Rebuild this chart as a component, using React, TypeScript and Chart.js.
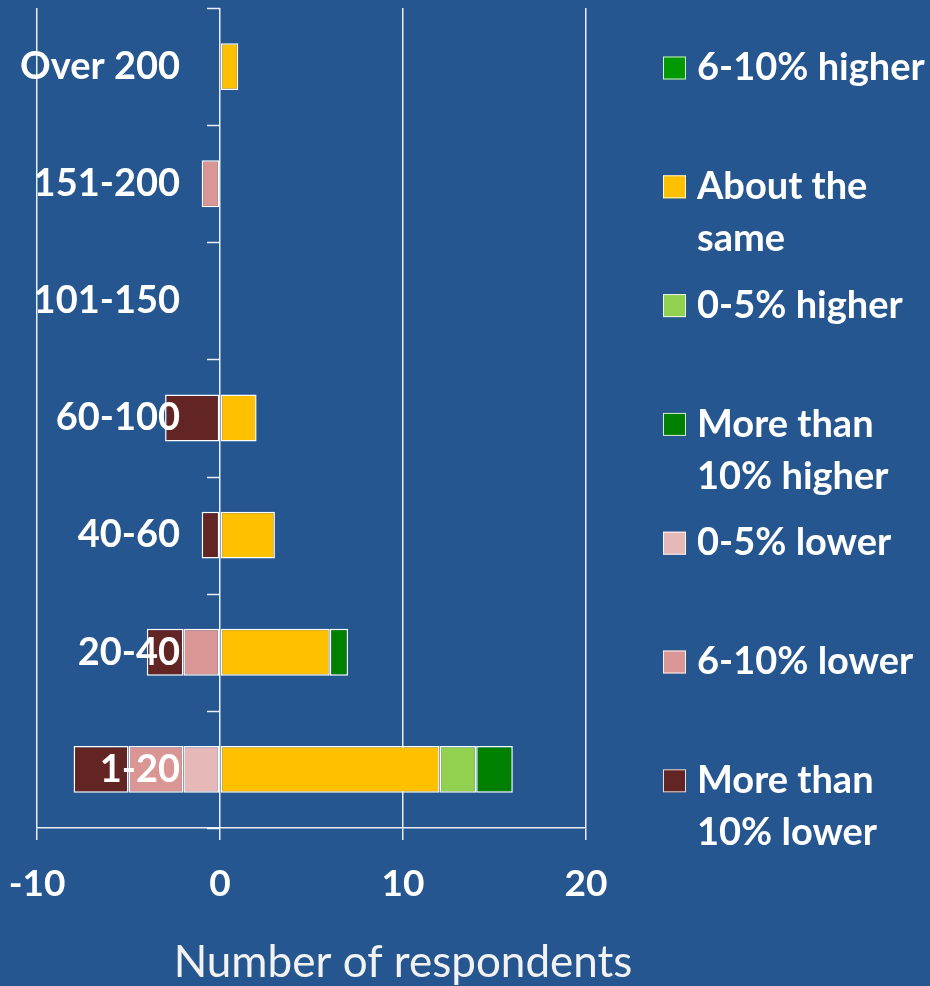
import React, { useEffect, useRef } from 'react';
import { Chart, registerables } from 'chart.js';

Chart.register(...registerables);

// ---- data ----
const categories = ['Over 200', '151-200', '101-150', '60-100', '40-60', '20-40', '1-20'];
const moreThan10Lower = [null, null, null, -3, -1, -2, -3];
const lower6to10 = [null, -1, null, null, null, -2, -3];
const lower0to5 = [null, null, null, null, null, null, -2];
const aboutSame = [1, null, null, 2, 3, 6, 12];
const higher0to5 = [null, null, null, null, null, null, 2];
const higher6to10 = [null, null, null, null, null, null, null];
const moreThan10Higher = [null, null, null, null, null, 1, 2];
const xMin = -10;
const xMax = 20;
const xStep = 10;
const axisTitle = 'Number of respondents';

// legend (top to bottom) with wrapped lines
const legendLabels = [
  ['6-10% higher'],
  ['About the', 'same'],
  ['0-5% higher'],
  ['More than', '10% higher'],
  ['0-5% lower'],
  ['6-10% lower'],
  ['More than', '10% lower'],
];

const COLORS: Record<string, string> = {
  moreThan10Lower: '#632523',
  lower6to10: '#d99694',
  lower0to5: '#e6b9b8',
  aboutSame: '#ffc000',
  higher0to5: '#92d050',
  higher6to10: '#009900',
  moreThan10Higher: '#008000',
};
const legendColors = [
  COLORS.higher6to10,
  COLORS.aboutSame,
  COLORS.higher0to5,
  COLORS.moreThan10Higher,
  COLORS.lower0to5,
  COLORS.lower6to10,
  COLORS.moreThan10Lower,
];

const BG = '#26568f';
const FONT = 'Lato, "Noto Sans", sans-serif';

export default function App() {
  const ref = useRef<HTMLCanvasElement | null>(null);

  useEffect(() => {
    if (!ref.current) return;
    const mk = (label: string, data: (number | null)[], color: string) => ({
      label,
      data,
      backgroundColor: color,
      borderColor: '#ffffff',
      borderWidth: 1.5,
      borderSkipped: false as const,
      barPercentage: 0.4,
      categoryPercentage: 1,
    });

    const decor = {
      id: 'decor',
      afterDatasetsDraw(chart: any) {
        const { ctx, chartArea, scales } = chart;
        const xs = scales.x;
        const ys = scales.y;
        const x0 = xs.getPixelForValue(0);
        ctx.save();
        // tick marks on the category axis at zero
        ctx.strokeStyle = 'rgba(255,255,255,0.9)';
        ctx.lineWidth = 1.5;
        const n = categories.length;
        const step = (chartArea.bottom - chartArea.top) / n;
        for (let i = 0; i <= n; i++) {
          const y = Math.round(chartArea.top + i * step) + 0.5;
          ctx.beginPath();
          ctx.moveTo(x0 - 13, y);
          ctx.lineTo(x0, y);
          ctx.stroke();
        }
        // category labels
        ctx.fillStyle = '#ffffff';
        ctx.font = `bold 38px ${FONT}`;
        ctx.textAlign = 'right';
        ctx.textBaseline = 'middle';
        categories.forEach((c, i) => {
          ctx.fillText(c, x0 - 40, ys.getPixelForValue(i));
        });
        // legend
        ctx.textAlign = 'left';
        const firstY = 68;
        const gap = 118.8;
        legendLabels.forEach((lines, i) => {
          const y = firstY + i * gap;
          ctx.fillStyle = legendColors[i];
          ctx.fillRect(663, y - 11.5, 23, 23);
          ctx.strokeStyle = 'rgba(255,255,255,0.85)';
          ctx.lineWidth = 1;
          ctx.strokeRect(663.5, y - 11, 22, 22);
          ctx.fillStyle = '#ffffff';
          lines.forEach((ln, j) => {
            ctx.fillText(ln, 697, y + j * 52);
          });
        });
        // axis title
        ctx.textAlign = 'center';
        ctx.font = `44px ${FONT}`;
        ctx.fillStyle = '#f2f2f2';
        ctx.fillText(axisTitle, 403, 963);
        ctx.restore();
      },
    };

    const chart = new Chart(ref.current, {
      type: 'bar',
      data: {
        labels: categories,
        datasets: [
          mk('0-5% lower', lower0to5, COLORS.lower0to5),
          mk('6-10% lower', lower6to10, COLORS.lower6to10),
          mk('More than 10% lower', moreThan10Lower, COLORS.moreThan10Lower),
          mk('About the same', aboutSame, COLORS.aboutSame),
          mk('0-5% higher', higher0to5, COLORS.higher0to5),
          mk('6-10% higher', higher6to10, COLORS.higher6to10),
          mk('More than 10% higher', moreThan10Higher, COLORS.moreThan10Higher),
        ],
      },
      options: {
        indexAxis: 'y',
        responsive: false,
        animation: false,
        layout: { padding: { left: 37, right: 344, top: 8, bottom: 0 } },
        plugins: {
          legend: { display: false },
          tooltip: { enabled: false },
          title: { display: false },
        },
        scales: {
          x: {
            type: 'linear',
            stacked: true,
            min: xMin,
            max: xMax,
            afterFit(scale: any) {
              scale.height = 158;
              scale.paddingLeft = 0;
              scale.paddingRight = 0;
            },
            ticks: {
              stepSize: xStep,
              color: '#ffffff',
              font: { family: FONT, size: 37, weight: 'bold' },
              padding: 22,
            },
            grid: {
              color: 'rgba(255,255,255,0.9)',
              lineWidth: 1.5,
              tickLength: 12,
              drawTicks: true,
              tickColor: 'rgba(255,255,255,0.9)',
            },
            border: { display: true, color: 'rgba(255,255,255,0.9)', width: 1.5 },
          },
          y: {
            stacked: true,
            display: false,
          },
        },
      },
      plugins: [decor],
    } as any);
    return () => chart.destroy();
  }, []);

  return (
    <div style={{ position: 'fixed', left: 0, top: 0, width: 930, height: 986, background: BG }}>
      <canvas ref={ref} width={930} height={986} style={{ display: 'block' }} />
    </div>
  );
}
